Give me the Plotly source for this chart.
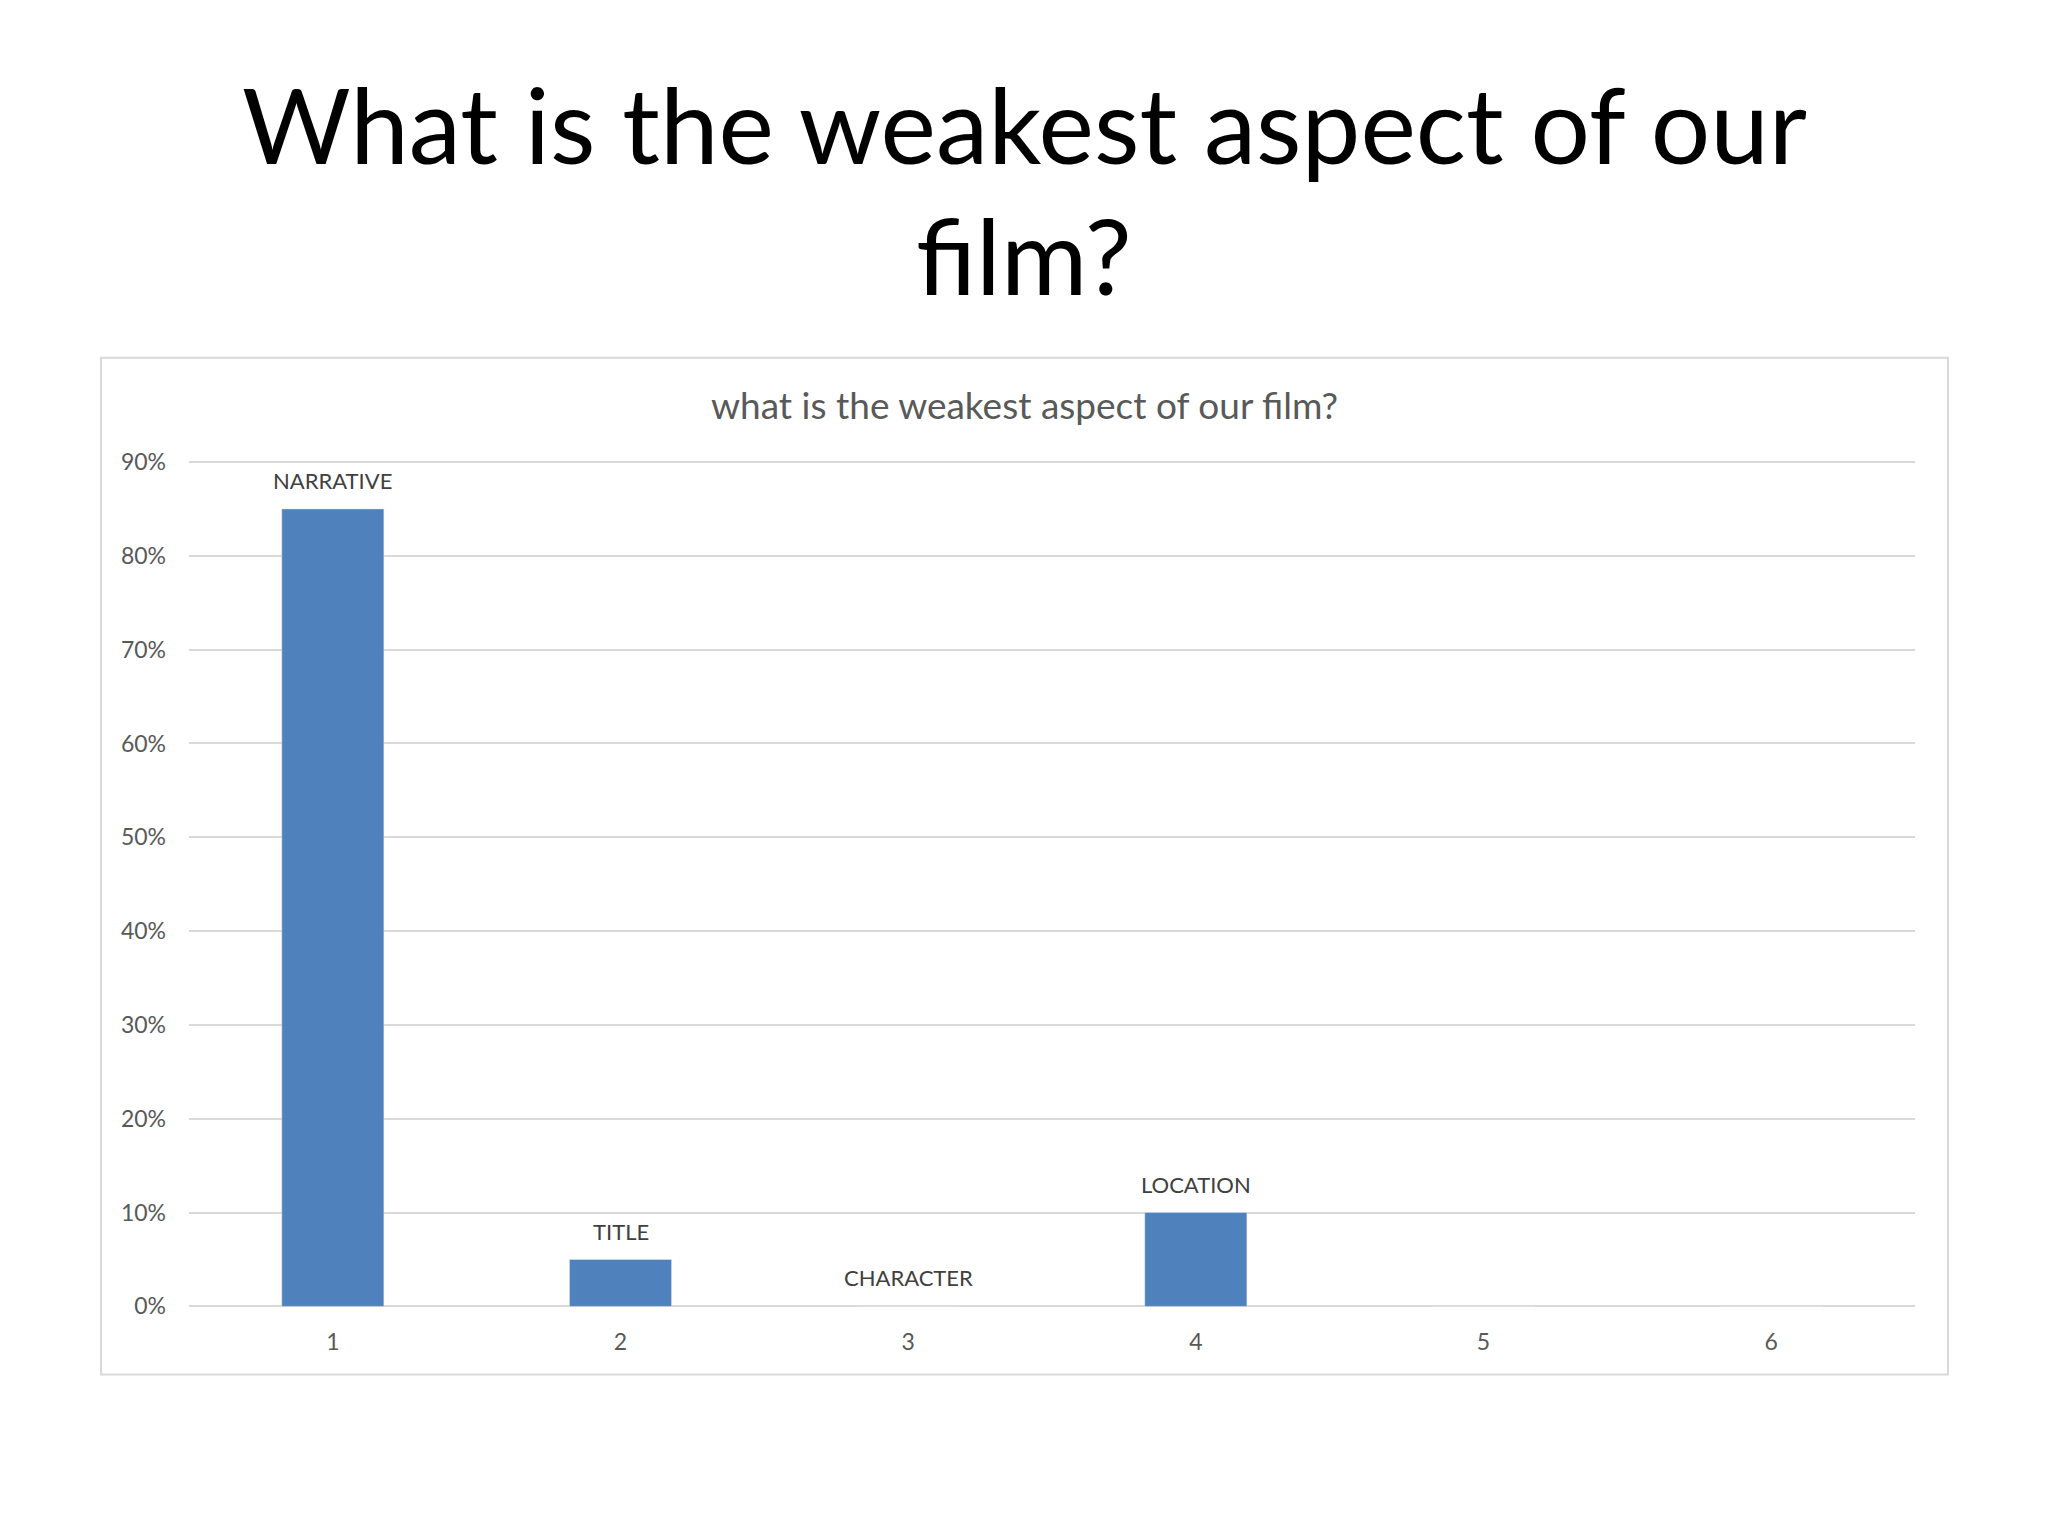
import plotly.graph_objects as go

# survey answers, share of respondents
categories = ["1", "2", "3", "4", "5", "6"]
shares = [0.85, 0.05, 0.0, 0.10, 0.0, 0.0]
answer_labels = ["NARRATIVE", "TITLE", "CHARACTER", "LOCATION", "", ""]

W, H = 2048, 1536
FONT = "Lato, 'Open Sans', sans-serif"

fig = go.Figure()
fig.add_trace(go.Bar(
    x=categories, y=shares,
    marker=dict(color="#4F81BD"),
    hoverinfo="skip",
))

# labels sit a little higher above the bars than plotly's outside text
# (annotation x on a category axis is the category index)
for i, (val, lab) in enumerate(zip(shares, answer_labels)):
    if lab:
        fig.add_annotation(x=i, y=val, text=lab, showarrow=False,
                           yanchor="bottom", yshift=13,
                           font=dict(size=22, color="#404040", family=FONT))

# plot area in page pixels (top a bit above the 90% line so its grid shows)
px0, px1 = 181, 1907
py_top, py_bot = 446, 1308

fig.update_layout(
    width=W, height=H,
    margin=dict(l=0, r=0, t=0, b=0),
    paper_bgcolor="white", plot_bgcolor="white",
    showlegend=False,
    bargap=0.645,
    font=dict(family=FONT, color="#595959"),
    xaxis=dict(
        type="category",
        domain=[px0 / W, px1 / W],
        showgrid=False, showline=False, zeroline=False,
        ticks="", tickfont=dict(size=23, color="#595959"),
        ticklabelstandoff=20,
    ),
    yaxis=dict(
        domain=[1 - py_bot / H, 1 - py_top / H],
        range=[0, 0.905], dtick=0.1, tickformat=".0%",
        showgrid=True, gridcolor="#D9D9D9", gridwidth=2,
        zeroline=True, zerolinecolor="#D9D9D9", zerolinewidth=2,
        showline=False, ticks="",
        tickfont=dict(size=23, color="#595959"),
        ticklabelstandoff=22,
    ),
)

# chart frame
fig.add_shape(type="rect", xref="paper", yref="paper",
              x0=93 / W, x1=1940 / W, y0=1 - 1377 / H, y1=1 - 345 / H,
              line=dict(color="#D9D9D9", width=2), fillcolor="rgba(0,0,0,0)",
              layer="below")

# slide title, two lines
fig.add_annotation(text="What is the weakest aspect of our",
                   xref="paper", yref="paper", x=1016 / W, y=1 - 107 / H,
                   yanchor="middle", showarrow=False,
                   font=dict(size=105, color="black", family=FONT))
fig.add_annotation(text="film?",
                   xref="paper", yref="paper", x=1016 / W, y=1 - 240 / H,
                   yanchor="middle", showarrow=False,
                   font=dict(size=105, color="black", family=FONT))

# chart title
fig.add_annotation(text="what is the weakest aspect of our film?",
                   xref="paper", yref="paper", x=1016 / W, y=1 - 392 / H,
                   yanchor="middle", showarrow=False,
                   font=dict(size=37, color="#595959", family=FONT))

fig.write_html("out.html")
